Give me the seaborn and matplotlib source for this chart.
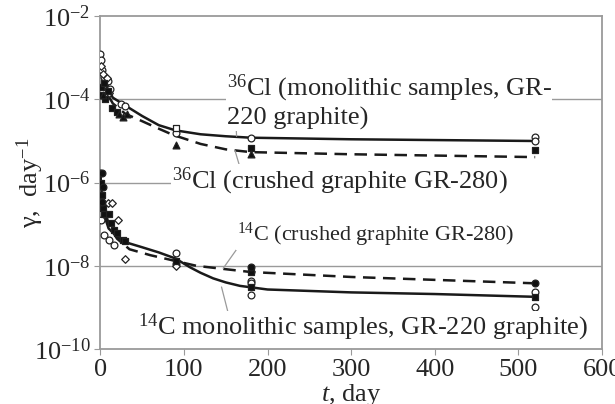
import numpy as np
import pandas as pd
import seaborn as sns
import matplotlib
matplotlib.use("Agg")
import matplotlib.pyplot as plt

# ---- data (t in days, gamma in 1/day) ----
# fitted curves
cl_mono_line_t = [0, 3, 8, 15, 30, 50, 70, 90, 120, 150, 180, 300, 520]
cl_mono_line_g = [1.3e-3, 5.0e-4, 2.0e-4, 1.1e-4, 7.1e-5, 4.0e-5, 2.4e-5, 1.8e-5, 1.45e-5, 1.3e-5, 1.2e-5, 1.1e-5, 1.0e-5]

cl_crush_line_t = [0, 3, 8, 15, 30, 50, 67, 87, 120, 150, 180, 300, 520]
cl_crush_line_g = [1.0e-3, 3.5e-4, 1.4e-4, 8.0e-5, 4.5e-5, 3.0e-5, 2.1e-5, 1.4e-5, 8.5e-6, 6.3e-6, 5.4e-6, 4.8e-6, 4.1e-6]

c_mono_line_t = [0, 2, 5, 10, 20, 30, 50, 70, 90, 107, 120, 135, 150, 167, 200, 300, 400, 520]
c_mono_line_g = [1.6e-6, 5.0e-7, 1.6e-7, 7.9e-8, 5.0e-8, 3.7e-8, 2.8e-8, 2.1e-8, 1.5e-8, 9.3e-9,
                 6.8e-9, 5.0e-9, 4.0e-9, 3.3e-9, 2.7e-9, 2.3e-9, 2.1e-9, 1.8e-9]

c_crush_line_t = [0, 2, 5, 10, 20, 35, 60, 87, 115, 150, 180, 300, 400, 520]
c_crush_line_g = [1.6e-6, 6.3e-7, 2.5e-7, 1.0e-7, 4.5e-8, 2.5e-8, 1.8e-8, 1.35e-8, 1.0e-8, 8.3e-9,
                  7.1e-9, 5.4e-9, 4.6e-9, 3.8e-9]

# measured points
cl_circ_t = [0, 1, 2, 4, 6, 9, 12, 25, 30, 90, 180, 520, 520]
cl_circ_g = [1.26e-3, 8.9e-4, 5.0e-4, 3.5e-4, 2.5e-4, 2.8e-4, 1.8e-4, 7.9e-5, 7.1e-5, 1.6e-5, 1.17e-5, 1.26e-5, 1.0e-5]
cl_diam_t = [1, 3, 5, 8, 11]
cl_diam_g = [6.3e-4, 4.0e-4, 2.2e-4, 3.2e-4, 1.4e-4]
cl_osq_t = [90]
cl_osq_g = [2.1e-5]
cl_sq_t = [1, 2, 4, 6, 9, 14, 20, 180, 520]
cl_sq_g = [2.0e-4, 1.3e-4, 2.5e-4, 1.0e-4, 1.6e-4, 6.3e-5, 5.0e-5, 6.8e-6, 6.0e-6]
cl_tri_t = [3, 22, 27, 32, 90, 180]
cl_tri_g = [1.3e-4, 4.5e-5, 3.8e-5, 4.5e-5, 7.9e-6, 5.0e-6]

c_sq_t = [1, 2, 3, 4, 10, 13, 16, 20, 27, 30, 90, 180, 180, 520]
c_sq_g = [1.0e-6, 5.0e-7, 2.5e-7, 1.8e-7, 1.8e-7, 1.05e-7, 7.2e-8, 6.3e-8, 4.2e-8, 4.0e-8,
          1.3e-8, 7.1e-9, 3.1e-9, 1.74e-9]
c_dot_t = [2, 3, 2, 180, 520]
c_dot_g = [1.7e-6, 7.9e-7, 3.5e-7, 9.3e-9, 3.8e-9]
c_circ_t = [0, 1, 5, 11, 17, 90, 90, 180, 180, 180, 520, 520]
c_circ_g = [1.7e-6, 1.26e-7, 5.5e-8, 4.2e-8, 3.2e-8, 2.0e-8, 1.1e-8, 4.3e-9, 3.8e-9, 2.0e-9, 2.3e-9, 1.05e-9]
c_diam_t = [9, 14, 21, 29, 90]
c_diam_g = [3.2e-7, 3.2e-7, 1.26e-7, 1.5e-8, 1.0e-8]

x_ticks = [0, 100, 200, 300, 400, 500, 600]
y_ticks = [1e-10, 1e-8, 1e-6, 1e-4, 1e-2]

sns.set_style("white")
plt.rcParams['font.family'] = ['Liberation Serif', 'DejaVu Serif']
plt.rcParams['mathtext.fontset'] = 'custom'
plt.rcParams['mathtext.rm'] = 'Liberation Serif'
plt.rcParams['mathtext.it'] = 'Liberation Serif:italic'
plt.rcParams['mathtext.bf'] = 'Liberation Serif:bold'

fig = plt.figure(figsize=(6.15, 4.04), dpi=100)
ax = fig.add_axes([0.163, 0.136, 0.816, 0.824])

grey = '#9a9a9a'
ax.axhline(1e-4, color=grey, lw=1.0, zorder=1)
ax.axhline(1e-8, color=grey, lw=1.0, zorder=1)
ax.axhline(1e-6, xmin=0, xmax=0.15, color=grey, lw=1.0, zorder=1)

lines = [
    (cl_mono_line_t, cl_mono_line_g, '-'),
    (cl_crush_line_t, cl_crush_line_g, '--'),
    (c_mono_line_t, c_mono_line_g, '-'),
    (c_crush_line_t, c_crush_line_g, '--'),
]
for lt, lg, ls in lines:
    sns.lineplot(x=lt, y=lg, sort=False, estimator=None, color='#1a1a1a', lw=1.8,
                 ax=ax, zorder=3)
    if ls == '--':
        ax.lines[-1].set_dashes([5, 3])

points = [
    (cl_circ_t, cl_circ_g, 'o', 'white'),
    (cl_diam_t, cl_diam_g, 'D', 'white'),
    (cl_osq_t, cl_osq_g, 's', 'white'),
    (cl_sq_t, cl_sq_g, 's', '#111111'),
    (cl_tri_t, cl_tri_g, '^', '#111111'),
    (c_circ_t, c_circ_g, 'o', 'white'),
    (c_diam_t, c_diam_g, 'D', 'white'),
    (c_sq_t, c_sq_g, 's', '#111111'),
    (c_dot_t, c_dot_g, 'o', '#111111'),
]
for pt, pg, mk, fc in points:
    sns.scatterplot(x=pt, y=pg, marker=mk, s=24 if mk != 'D' else 15, color=fc,
                    edgecolor='#222222', linewidth=0.9, ax=ax, zorder=4, legend=False)

ax.set_yscale('log')
ax.set_xlim(0, 600)
ax.set_ylim(1e-10, 1e-2)
ax.set_xticks(x_ticks)
ax.set_yticks(y_ticks)
ax.yaxis.set_minor_locator(matplotlib.ticker.NullLocator())
ax.tick_params(axis='both', labelsize=19, direction='out', length=4, color=grey,
               left=True, bottom=True, pad=3)
for sp in ax.spines.values():
    sp.set_color(grey)
    sp.set_linewidth(1.3)

ax.set_xlabel('$t$, day', fontsize=19, va='top')
ax.xaxis.set_label_coords(0.5, -0.098)
ax.set_ylabel('γ,  day$^{-1}$', fontsize=19, va='center')
ax.yaxis.set_label_coords(-0.14, 0.5)

box = dict(facecolor='white', edgecolor='none', pad=0.5)
lead = dict(arrowstyle='-', color=grey, lw=0.9, shrinkA=0, shrinkB=0)

ax.annotate('$^{36}$Cl (monolithic samples, GR-\n220 graphite)', xy=(163, 1.3e-5),
            xytext=(151, 4.5e-4), fontsize=19, ha='left', va='top', linespacing=1.2,
            bbox=box, arrowprops=dict(lead, relpos=(0.03, 0)), zorder=5)
ax.annotate('$^{36}$Cl (crushed graphite GR-280)', xy=(161, 6.0e-6),
            xytext=(86, 7.4e-7), fontsize=19, ha='left', va='baseline',
            bbox=box, arrowprops=dict(lead, relpos=(0.2, 1)), zorder=5)
ax.annotate('$^{14}$C (crushed graphite GR-280)', xy=(147, 8.7e-9),
            xytext=(163, 3.9e-8), fontsize=16, ha='left', va='baseline',
            bbox=box, arrowprops=dict(lead, relpos=(0.0, 0)), zorder=5)
ax.annotate('$^{14}$C monolithic samples, GR-220 graphite)', xy=(145, 3.1e-9),
            xytext=(45, 2.2e-10), fontsize=19, ha='left', va='baseline',
            bbox=box, arrowprops=dict(lead, relpos=(0.2, 1)), zorder=5)

fig.savefig('out.png', dpi=100)
